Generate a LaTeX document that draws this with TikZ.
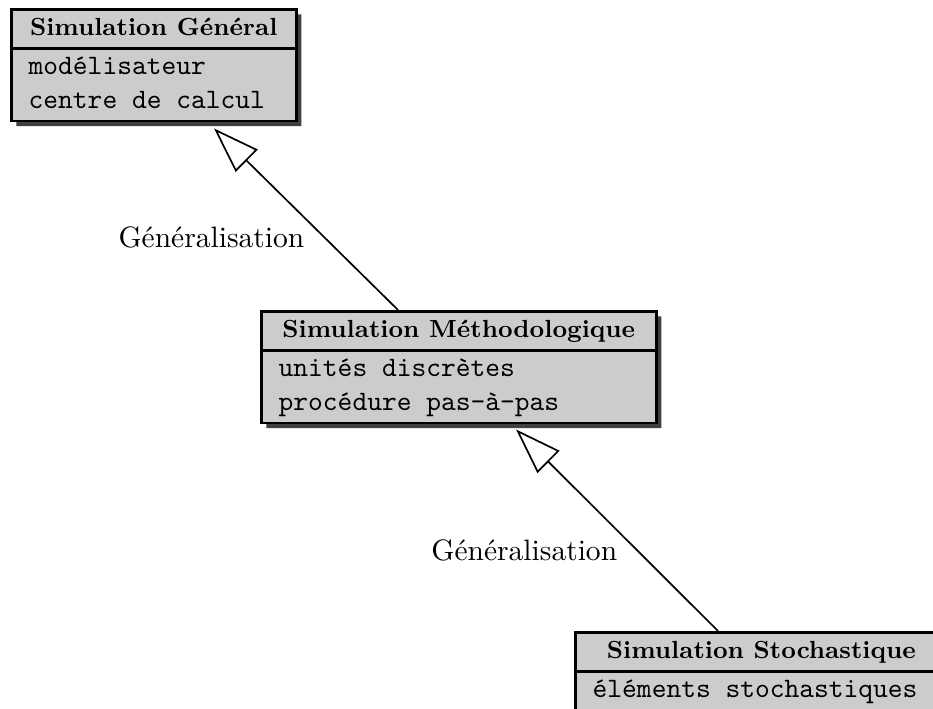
\documentclass[tikz,border=0pt]{standalone}
\usepackage{fontspec}
\usepackage{amssymb,amsmath}
\usetikzlibrary{shapes.multipart}
\usetikzlibrary{shadows}
\usetikzlibrary{arrows.meta}

\newcommand{\attrlist}[1]{{\ttfamily\renewcommand{\arraystretch}{1.0}%
  \begin{tabular}{@{}l@{}}#1\end{tabular}}}
\newcommand{\classname}[1]{{\fontsize{8.8}{12}\selectfont\bfseries
  \renewcommand{\arraystretch}{1.0}%
  \begin{tabular}{@{}c@{}}#1\end{tabular}}}

\begin{document}
\begin{tikzpicture}[umlclass/.style={rectangle split, rectangle split parts=2,
      rectangle split part align={center,left}, draw=black, fill=black!20,
      line width=0.9pt, inner xsep=6.2pt, inner ysep=0.5pt, anchor=north west,
      drop shadow={shadow xshift=0.0625cm, shadow yshift=-0.0625cm,
                   fill=black!75, opacity=1}},
    generalise/.style={semithick, -{Triangle[open, length=0.575cm, width=0.39cm]}},
    genlabel/.style={pos=0.4, left=0.24cm, inner sep=0pt, font=\fontsize{10.5}{12}\selectfont}]
\useasboundingbox (0,0) rectangle (11.6625,8.85);
\begin{scope}

  % classes
  \node[umlclass, minimum width=3.5625cm] (general) at (0.125,8.75)
        {\classname{Simulation Général}
         \nodepart{second}\attrlist{modélisateur\\centre de calcul}};
  \node[umlclass, minimum width=4.9375cm] (methodo) at (3.25,4.975)
        {\classname{Simulation Méthodologique}
         \nodepart{second}\attrlist{unités discrètes\\procédure pas-à-pas}};
  \node[umlclass, minimum width=4.65cm] (stocha) at (7.175,0.9625)
        {\classname{Simulation Stochastique}
         \nodepart{second}\attrlist{éléments stochastiques}};

  % generalisations
  \draw[generalise] ([xshift=1.725cm]methodo.north west)
        -- ([xshift=2.55cm,yshift=-0.075cm]general.south west)
        node[genlabel] {Généralisation};
  \draw[generalise] ([xshift=1.8cm]stocha.north west)
        -- ([xshift=3.2cm,yshift=-0.0625cm]methodo.south west)
        node[genlabel] {Généralisation};

\end{scope}
\end{tikzpicture}
\end{document}
